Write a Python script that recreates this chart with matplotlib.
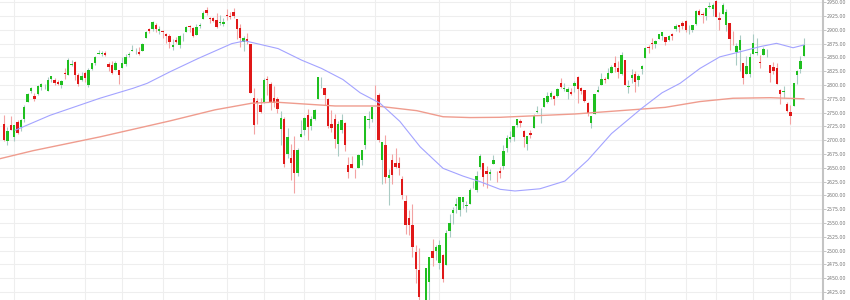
import numpy as np
import matplotlib.pyplot as plt

# Daily candles, 27 Jun 2018 .. 7 Jun 2019 (one entry per trading day)
opens = [
    2728.45, 2698.69, 2727.13,
    2704.95, 2733.27, 2724.19, 2737.68, 2768.51, 2788.56, 2779.82, 2783.14, 2796.93, 2797.36,
    2789.34, 2811.35, 2809.37, 2804.55, 2799.17, 2820.68, 2817.73, 2835.49, 2842.35, 2819.00, 2809.73,
    2821.17, 2800.48, 2829.62, 2840.29, 2855.92, 2856.79, 2857.19, 2838.90, 2835.46, 2827.88, 2827.95,
    2831.44, 2838.32, 2853.93, 2861.51, 2860.99, 2860.29, 2862.35, 2884.69, 2901.45, 2900.62, 2908.94, 2898.37,
    2896.96, 2891.59, 2888.64, 2868.26, 2881.39, 2871.57, 2888.29, 2896.85, 2906.38, 2903.83, 2890.74,
    2906.60, 2919.73, 2936.76, 2921.83, 2921.75, 2916.98, 2911.65, 2910.03,
    2926.29, 2923.80, 2931.69, 2919.35, 2902.54, 2877.53, 2882.51, 2873.90, 2776.87, 2770.54, 2763.83,
    2767.05, 2811.67, 2802.00, 2775.66, 2773.94, 2721.03, 2737.87, 2674.88, 2667.86, 2682.65, 2640.68, 2705.60,
    2717.58, 2745.45, 2726.37, 2738.40, 2774.13, 2806.38, 2794.10, 2773.93, 2730.05, 2737.90, 2693.52,
    2718.54, 2730.74, 2654.60, 2657.74, 2633.36, 2649.97, 2663.75, 2691.45, 2736.97, 2737.76,
    2790.50, 2782.43, 2663.51, 2691.26, 2630.86, 2664.44, 2658.23, 2658.70, 2629.68, 2590.75, 2559.90,
    2547.05, 2496.77, 2465.38, 2400.56, 2363.12, 2442.50, 2498.77, 2498.94,
    2476.96, 2491.92, 2474.33, 2535.61, 2568.11, 2580.00, 2573.51, 2588.11, 2580.31, 2585.10, 2614.75,
    2609.28, 2651.27, 2657.88, 2643.48, 2638.84, 2657.44, 2644.97, 2644.89, 2653.62, 2685.49,
    2702.32, 2706.49, 2728.34, 2735.05, 2717.53, 2692.36, 2712.40, 2722.61, 2750.30, 2743.50, 2760.24,
    2769.28, 2779.05, 2780.67, 2780.67, 2804.35, 2792.36, 2787.50, 2788.11,
    2798.22, 2814.37, 2794.41, 2790.27, 2766.53, 2730.79, 2747.61, 2787.34, 2799.78, 2810.38, 2810.79,
    2822.61, 2840.76, 2831.34, 2819.72, 2844.52, 2796.01, 2812.66, 2819.72, 2809.40, 2828.27,
    2848.63, 2868.24, 2876.09, 2873.99, 2884.16, 2888.46, 2886.58, 2881.37, 2891.92, 2900.86, 2908.32,
    2912.26, 2916.04, 2904.81, 2898.78, 2909.99, 2934.00, 2928.99, 2925.81, 2940.58, 2937.14,
    2952.33, 2922.16, 2929.21, 2908.89, 2913.03, 2879.61, 2859.84, 2863.10, 2840.19, 2820.12, 2820.38,
    2855.80, 2858.60, 2841.94, 2854.02, 2856.06, 2836.70, 2832.41, 2830.03, 2790.25, 2786.94, 2766.15,
    2751.53, 2762.64, 2818.09, 2828.51, 2852.87,
]
highs = [
    2746.09, 2724.34, 2743.26,
    2727.26, 2736.58, 2737.83, 2764.41, 2784.65, 2795.58, 2785.91, 2799.22, 2804.53, 2801.19,
    2814.19, 2816.76, 2812.05, 2809.70, 2808.61, 2829.99, 2848.03, 2845.57, 2843.17, 2821.74, 2824.46,
    2825.83, 2829.91, 2840.38, 2853.29, 2863.43, 2862.44, 2862.48, 2842.20, 2843.40, 2843.11, 2827.95,
    2850.49, 2855.63, 2859.76, 2873.23, 2867.54, 2868.78, 2876.16, 2898.25, 2903.77, 2916.50, 2912.46, 2906.32,
    2900.18, 2894.21, 2892.05, 2883.81, 2886.93, 2890.49, 2894.65, 2906.76, 2908.30, 2904.65, 2911.17,
    2912.36, 2934.80, 2940.91, 2923.79, 2923.95, 2931.15, 2927.22, 2920.53,
    2937.06, 2931.42, 2939.86, 2919.78, 2909.64, 2889.45, 2894.83, 2874.02, 2795.14, 2775.77, 2775.99,
    2813.46, 2816.94, 2806.04, 2797.77, 2778.94, 2753.59, 2742.59, 2722.70, 2692.38, 2706.85, 2685.43, 2736.69,
    2741.67, 2756.55, 2744.27, 2756.82, 2815.15, 2814.75, 2794.10, 2775.99, 2754.60, 2746.80, 2735.38,
    2746.75, 2733.16, 2669.44, 2670.73, 2647.55, 2674.35, 2682.53, 2744.00, 2753.75, 2760.88,
    2800.18, 2785.93, 2696.15, 2708.54, 2647.51, 2674.35, 2685.44, 2670.19, 2635.07, 2601.13, 2573.99,
    2585.29, 2509.63, 2504.41, 2410.34, 2467.76, 2489.10, 2520.27, 2509.24,
    2519.49, 2493.14, 2538.07, 2566.16, 2579.82, 2595.32, 2597.82, 2596.27, 2589.32, 2613.08, 2625.76,
    2645.06, 2675.47, 2657.88, 2653.19, 2647.20, 2672.38, 2644.97, 2650.93, 2690.44, 2708.95,
    2716.66, 2724.99, 2738.98, 2738.08, 2719.32, 2708.07, 2718.05, 2748.19, 2761.85, 2757.90, 2775.66,
    2787.33, 2789.88, 2781.58, 2794.20, 2813.49, 2803.12, 2795.76, 2793.73,
    2808.02, 2816.88, 2796.44, 2790.27, 2768.98, 2744.13, 2784.00, 2798.32, 2821.24, 2815.00, 2830.73,
    2835.41, 2852.42, 2843.54, 2860.31, 2846.16, 2809.79, 2829.87, 2825.56, 2819.71, 2836.03,
    2869.40, 2872.90, 2885.25, 2881.28, 2893.24, 2895.95, 2886.88, 2889.71, 2893.42, 2910.54, 2909.60,
    2916.06, 2918.00, 2908.40, 2909.51, 2936.31, 2936.83, 2933.10, 2939.88, 2949.52, 2948.22,
    2954.13, 2931.68, 2947.85, 2937.32, 2913.03, 2897.96, 2875.97, 2891.31, 2840.19, 2852.54, 2858.68,
    2892.15, 2885.48, 2853.86, 2868.88, 2865.47, 2836.70, 2841.36, 2840.51, 2792.03, 2799.00, 2768.98,
    2763.07, 2804.49, 2827.28, 2852.10, 2884.97,
]
lows = [
    2699.38, 2691.99, 2718.03,
    2698.95, 2711.16, 2716.02, 2733.52, 2768.51, 2786.24, 2770.77, 2781.53, 2791.69, 2793.39,
    2789.24, 2805.89, 2799.77, 2800.01, 2795.14, 2811.12, 2817.73, 2835.26, 2808.34, 2798.11, 2808.06,
    2805.85, 2796.34, 2827.37, 2835.98, 2855.92, 2853.09, 2851.98, 2825.81, 2819.88, 2826.58, 2802.49,
    2831.44, 2833.73, 2850.62, 2861.32, 2856.05, 2854.03, 2862.35, 2884.69, 2893.50, 2898.40, 2895.22, 2891.73,
    2885.13, 2876.92, 2867.29, 2864.12, 2875.94, 2866.78, 2879.20, 2896.39, 2895.77, 2886.16, 2890.43,
    2903.82, 2919.73, 2927.11, 2912.63, 2913.70, 2903.28, 2909.27, 2907.50,
    2917.91, 2919.37, 2921.36, 2883.92, 2869.29, 2862.08, 2874.27, 2784.86, 2710.51, 2729.44, 2749.03,
    2766.91, 2781.81, 2755.18, 2760.27, 2749.22, 2691.43, 2651.89, 2667.84, 2628.16, 2603.54, 2635.34, 2705.60,
    2708.85, 2700.44, 2717.94, 2737.08, 2774.13, 2794.99, 2764.24, 2722.00, 2714.98, 2685.75, 2670.75,
    2712.16, 2681.09, 2631.52, 2649.82, 2631.09, 2649.97, 2655.89, 2684.38, 2722.94, 2732.76,
    2773.38, 2697.18, 2621.53, 2623.14, 2583.23, 2621.30, 2650.26, 2637.27, 2593.84, 2530.54, 2528.71,
    2488.96, 2441.18, 2408.55, 2351.10, 2346.58, 2397.94, 2472.89, 2482.82,
    2467.47, 2443.96, 2474.33, 2524.56, 2547.56, 2568.89, 2562.02, 2577.40, 2570.41, 2585.10, 2612.68,
    2606.36, 2647.58, 2617.27, 2612.86, 2627.01, 2657.33, 2624.06, 2631.05, 2648.34, 2678.65,
    2696.88, 2698.75, 2724.03, 2724.15, 2687.26, 2681.83, 2703.79, 2722.61, 2748.63, 2731.23, 2760.24,
    2767.29, 2774.06, 2764.55, 2779.11, 2794.99, 2789.47, 2775.13, 2782.51,
    2787.38, 2767.66, 2782.97, 2768.69, 2743.67, 2722.27, 2747.61, 2786.73, 2799.78, 2803.46, 2810.79,
    2821.99, 2823.27, 2812.43, 2817.38, 2800.47, 2785.02, 2803.99, 2787.72, 2798.77, 2819.23,
    2848.63, 2858.75, 2865.17, 2867.14, 2882.99, 2880.78, 2873.33, 2879.13, 2881.99, 2898.37, 2896.48,
    2900.71, 2895.45, 2891.90, 2896.35, 2908.53, 2926.05, 2912.84, 2917.56, 2939.35, 2924.11,
    2923.36, 2900.50, 2929.21, 2898.21, 2862.60, 2873.28, 2836.40, 2825.39, 2801.43, 2820.12, 2815.08,
    2855.80, 2854.23, 2831.29, 2854.02, 2851.11, 2805.49, 2820.19, 2801.58, 2766.06, 2776.74, 2750.52,
    2728.81, 2762.64, 2800.92, 2822.45, 2852.87,
]
closes = [
    2699.63, 2716.31, 2718.37,
    2726.71, 2713.22, 2736.61, 2759.82, 2784.17, 2793.84, 2774.02, 2798.29, 2801.31, 2798.43,
    2809.55, 2815.62, 2804.49, 2801.83, 2806.98, 2820.40, 2846.07, 2837.44, 2818.82, 2802.60, 2816.29,
    2813.36, 2827.22, 2840.35, 2850.40, 2858.45, 2857.70, 2853.58, 2833.28, 2821.93, 2839.96, 2818.37,
    2840.69, 2850.13, 2857.05, 2862.96, 2861.82, 2856.98, 2874.69, 2896.74, 2897.52, 2914.04, 2901.13, 2901.52,
    2896.72, 2888.60, 2878.05, 2871.68, 2877.13, 2887.89, 2888.92, 2904.18, 2904.98, 2888.80, 2904.31,
    2907.95, 2930.75, 2929.67, 2919.37, 2915.56, 2905.97, 2914.00, 2913.98,
    2924.59, 2923.43, 2925.51, 2901.61, 2885.57, 2884.43, 2880.34, 2785.68, 2728.37, 2767.13, 2750.79,
    2809.92, 2809.21, 2768.78, 2767.78, 2755.88, 2740.69, 2656.10, 2705.57, 2658.69, 2641.25, 2682.63, 2711.74,
    2740.37, 2723.06, 2738.31, 2755.45, 2813.89, 2806.83, 2781.01, 2726.22, 2722.18, 2701.58, 2730.20,
    2736.27, 2690.73, 2641.89, 2649.93, 2632.56, 2673.45, 2682.17, 2743.79, 2737.80, 2760.17,
    2790.37, 2700.06, 2695.95, 2633.08, 2637.72, 2636.78, 2651.07, 2650.54, 2599.95, 2545.94, 2546.16,
    2506.96, 2467.42, 2416.62, 2351.10, 2467.70, 2488.83, 2485.74, 2506.85,
    2510.03, 2447.89, 2531.94, 2549.69, 2574.41, 2584.96, 2596.64, 2596.26, 2582.61, 2610.30, 2616.10,
    2635.96, 2670.71, 2632.90, 2638.70, 2642.33, 2664.76, 2643.85, 2640.00, 2681.05, 2704.10,
    2706.53, 2724.87, 2737.70, 2731.61, 2706.05, 2707.88, 2709.80, 2744.73, 2753.03, 2745.73, 2775.60,
    2779.76, 2784.70, 2774.88, 2792.67, 2796.11, 2793.90, 2792.38, 2784.49,
    2803.69, 2792.81, 2789.65, 2771.45, 2748.93, 2743.07, 2783.30, 2791.52, 2810.92, 2808.48, 2822.48,
    2832.94, 2832.57, 2824.23, 2854.88, 2800.71, 2798.36, 2818.46, 2805.37, 2815.44, 2834.40,
    2867.19, 2867.24, 2873.40, 2879.39, 2892.74, 2895.77, 2878.20, 2888.21, 2888.32, 2907.41, 2905.58,
    2907.06, 2900.45, 2905.03, 2907.97, 2933.68, 2927.25, 2926.17, 2939.88, 2943.03, 2945.83,
    2923.73, 2917.52, 2945.64, 2932.47, 2884.05, 2879.42, 2870.72, 2881.40, 2811.87, 2834.41, 2850.96,
    2876.32, 2859.53, 2840.23, 2864.36, 2856.27, 2822.24, 2826.06, 2802.39, 2783.02, 2788.86, 2752.06,
    2744.45, 2803.27, 2826.15, 2843.49, 2873.34,
]

# moving average lines (candle index, value)
ma50_idx = [3.3, 13.6, 28.4, 38.2, 42.4, 49.2, 57.5, 67.5, 71.4, 81.2, 88.2, 94.1, 100.4, 105.5,
            111.4, 117.3, 123.3, 130.1, 136.0, 141.0, 147.0, 151.4, 158.8, 166.2, 173.0, 180.0,
            189.0, 195.0, 200.3, 206.2, 212.1, 218.0, 224.0, 228.9, 233.8, 237.0]
ma50_val = [2718, 2745, 2776, 2794, 2803, 2824, 2848, 2875, 2880, 2866, 2845, 2830, 2810, 2786,
            2767, 2734, 2688, 2649, 2635, 2625, 2611, 2608, 2612, 2626, 2664, 2712,
            2758, 2786, 2803, 2830, 2851, 2860, 2869.5, 2875.5, 2867.5, 2872.5]
ma200_idx = [-1.2, 8.6, 28.4, 49.2, 62.5, 73.4, 80.3, 89.2, 98.1, 110.4, 122.3, 130.1, 138.1,
             147.0, 169.2, 195.9, 206.2, 216.0, 227.0, 237.0]
ma200_val = [2666.5, 2681, 2706, 2735, 2755, 2767, 2769, 2765.5, 2762, 2762, 2753.5, 2742.5, 2741,
             2741.5, 2747.5, 2759.5, 2770, 2776, 2777, 2775]

# vertical grid lines (candle index)
vgrid = [3, 24, 35, 47, 66, 77, 89, 110, 129, 150, 169, 190, 202, 211, 222, 233]
yticks = np.arange(2425, 2951, 25)

o = np.array(opens)
h = np.array(highs)
l = np.array(lows)
c = np.array(closes)
x = np.arange(len(c))
up = c >= o

fig = plt.figure(figsize=(8.5, 3), dpi=100)
ax = fig.add_axes([0, 0, 823 / 850, 1])

ax.vlines(x[up], l[up], h[up], color='#a9cbc4', lw=0.8, zorder=2)
ax.vlines(x[~up], l[~up], h[~up], color='#f3a3a3', lw=0.8, zorder=2)
body = np.maximum(np.abs(c - o), 0.8)
ax.bar(x[up], body[up], bottom=np.minimum(o, c)[up], width=0.68, color='#1fbf1f', zorder=3)
ax.bar(x[~up], body[~up], bottom=np.minimum(o, c)[~up], width=0.68, color='#e01818', zorder=3)

ax.plot(ma200_idx, ma200_val, color='#ef9c8e', lw=1.0, zorder=4)
ax.plot(ma50_idx, ma50_val, color='#a3a3ff', lw=0.8, zorder=4)

ax.set_xlim(-1.19, 242.67)
ax.set_ylim(2410.5, 2954)
ax.set_xticks(vgrid)
ax.set_xticklabels([])
ax.set_yticks(yticks)
ax.set_yticklabels(['%.2f' % v for v in yticks])
ax.yaxis.tick_right()
ax.tick_params(axis='x', length=0)
ax.tick_params(axis='y', length=2, width=0.6, color='#bbbbbb', labelsize=3.4,
               labelcolor='#777777', pad=1)
ax.grid(True, color='#eeeeee', lw=0.8, zorder=0)
ax.set_axisbelow(True)
for s in ['top', 'left', 'bottom']:
    ax.spines[s].set_visible(False)
ax.spines['right'].set_color('#c4c4c4')
ax.spines['right'].set_linewidth(1.5)

fig.savefig('out.png', dpi=100)
